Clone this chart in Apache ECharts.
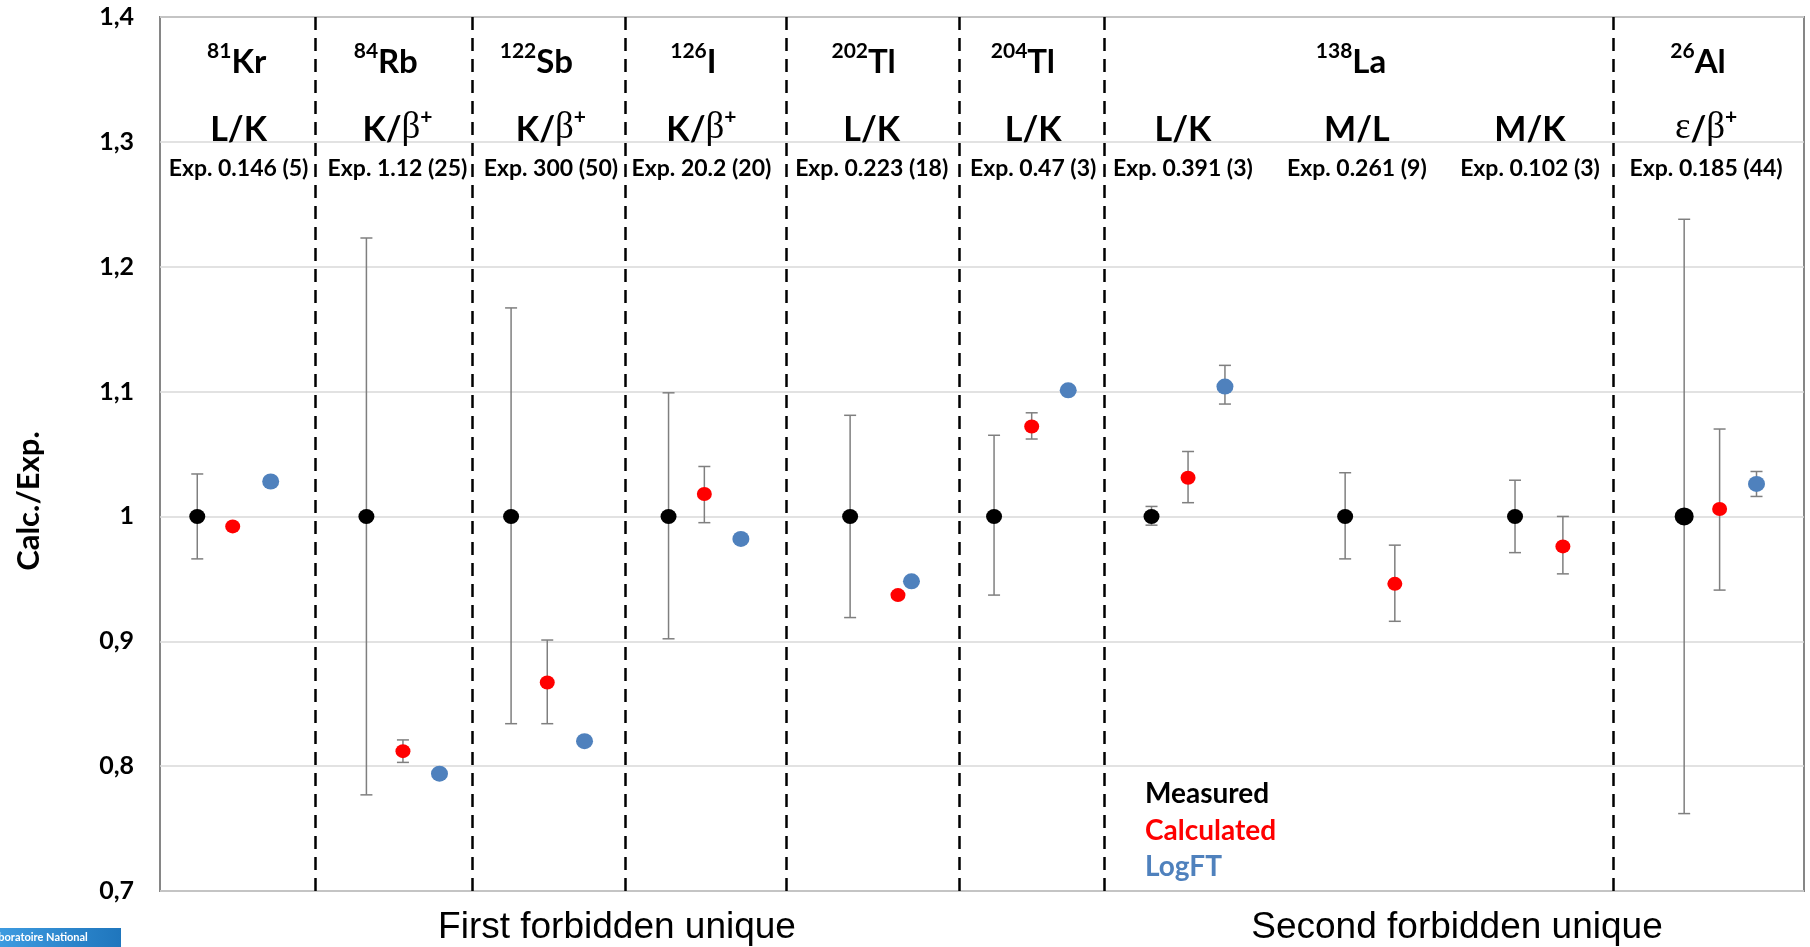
<!doctype html>
<html lang="en">
<head>
<meta charset="UTF-8">
<title>Calc./Exp.</title>
<style>
  html, body { margin: 0; padding: 0; background: #fff; }
  #chart { width: 1810px; height: 947px; }
</style>
<script src="https://cdn.jsdelivr.net/npm/echarts@6.0.0/dist/echarts.min.js"></script>
</head>
<body>
<div id="chart"></div>
<script>
// positions along the row of transitions (x axis runs 0..45)
var measuredX = [1.02, 5.65, 9.61, 13.92, 18.89, 22.83, 27.14, 32.44, 37.09, 41.72];
var measuredY = [1, 1, 1, 1, 1, 1, 1, 1, 1, 1];
var measuredLo = [0.966, 0.777, 0.834, 0.902, 0.919, 0.937, 0.993, 0.966, 0.971, 0.762];
var measuredHi = [1.034, 1.223, 1.167, 1.099, 1.081, 1.065, 1.008, 1.035, 1.029, 1.238];

var calculatedX = [1.99, 6.65, 10.60, 14.90, 20.20, 23.86, 28.14, 33.80, 38.40, 42.69];
var calculatedY = [0.992, 0.812, 0.867, 1.018, 0.937, 1.072, 1.031, 0.946, 0.976, 1.006];
var calculatedLo = [null, 0.803, 0.834, 0.995, null, 1.062, 1.011, 0.916, 0.954, 0.941];
var calculatedHi = [null, 0.821, 0.901, 1.040, null, 1.083, 1.052, 0.977, 1.000, 1.070];

var logftX = [3.03, 7.65, 11.62, 15.90, 20.57, 24.86, 29.15, 43.70];
var logftY = [1.028, 0.794, 0.820, 0.982, 0.948, 1.101, 1.104, 1.026];
var logftLo = [null, null, null, null, null, null, 1.090, 1.016];
var logftHi = [null, null, null, null, null, null, 1.121, 1.036];

var separatorX = [4.24, 8.55, 12.74, 17.15, 21.88, 25.84, 39.78];

var massNumbers = ['81', '84', '122', '126', '202', '204', '138', '26'];
var elements = ['Kr', 'Rb', 'Sb', 'I', 'Tl', 'Tl', 'La', 'Al'];
var ratios = ['L/K', 'K/β+', 'K/β+', 'K/β+', 'L/K', 'L/K', 'L/K', 'M/L', 'M/K', 'ε/β+'];
var expValues = ['Exp. 0.146 (5)', 'Exp. 1.12 (25)', 'Exp. 300 (50)', 'Exp. 20.2 (20)',
  'Exp. 0.223 (18)', 'Exp. 0.47 (3)', 'Exp. 0.391 (3)', 'Exp. 0.261 (9)',
  'Exp. 0.102 (3)', 'Exp. 0.185 (44)'];
var yTicks = [0.7, 0.8, 0.9, 1.0, 1.1, 1.2, 1.3, 1.4];
var legendNames = ['Measured', 'Calculated', 'LogFT'];
var groupTitles = ['First forbidden unique', 'Second forbidden unique'];

// where the header texts sit, in x axis units
var nuclideAt = [2.1, 6.18, 10.3, 14.6, 19.26, 23.62, 32.6, 42.1];
var ratioAt = [2.15, 6.5, 10.7, 14.82, 19.48, 23.9, 28.0, 32.76, 37.5, 42.32];

var FONT = 'Lato, "DejaVu Sans", sans-serif';
var GREEK = '"Liberation Serif", "DejaVu Serif", serif';

function pairs(xs, ys) {
  return xs.map(function (x, i) { return [x, ys[i]]; });
}
function bars(xs, lo, hi) {
  var out = [];
  xs.forEach(function (x, i) {
    if (lo[i] != null) out.push([x, lo[i], hi[i]]);
  });
  return out;
}

function errorBar(params, api) {
  var x = api.value(0);
  var lo = api.coord([x, api.value(1)]);
  var hi = api.coord([x, api.value(2)]);
  var c = 6;
  var st = { stroke: '#7f7f7f', lineWidth: 1.5 };
  return {
    type: 'group',
    children: [
      { type: 'line', shape: { x1: lo[0], y1: lo[1], x2: hi[0], y2: hi[1] }, style: st },
      { type: 'line', shape: { x1: lo[0] - c, y1: lo[1], x2: lo[0] + c, y2: lo[1] }, style: st },
      { type: 'line', shape: { x1: hi[0] - c, y1: hi[1], x2: hi[0] + c, y2: hi[1] }, style: st }
    ]
  };
}

function ratioMarkup(s) {
  var out = '';
  for (var i = 0; i < s.length; i++) {
    var ch = s[i];
    if (ch === 'β' || ch === 'ε') out += '{g|' + ch + '}';
    else if (ch === '+') out += '{p|+}';
    else out += '{t|' + ch + '}';
  }
  return out;
}

var chart = echarts.init(document.getElementById('chart'));

chart.setOption({
  animation: false,
  backgroundColor: '#fff',
  grid: {
    left: 160, right: 6, top: 17, bottom: 56,
    show: true, borderColor: '#868686', borderWidth: 2
  },
  xAxis: { type: 'value', min: 0, max: 45, show: false },
  yAxis: {
    type: 'value', min: 0.7, max: 1.4, interval: 0.1,
    axisLine: { show: false },
    axisTick: { show: false },
    splitLine: { lineStyle: { color: '#d9d9d9', width: 1.5 } },
    axisLabel: {
      margin: 26, color: '#000', fontFamily: FONT, fontWeight: 'bold', fontSize: 25,
      formatter: function (v) {
        return String(Math.round(v * 10) / 10).replace('.', ',');
      }
    }
  },
  series: [
    {
      type: 'custom', name: 'errMeasured', renderItem: errorBar, z: 1,
      encode: { x: 0, y: [1, 2] }, data: bars(measuredX, measuredLo, measuredHi)
    },
    {
      type: 'custom', name: 'errCalculated', renderItem: errorBar, z: 1,
      encode: { x: 0, y: [1, 2] }, data: bars(calculatedX, calculatedLo, calculatedHi)
    },
    {
      type: 'custom', name: 'errLogFT', renderItem: errorBar, z: 1,
      encode: { x: 0, y: [1, 2] }, data: bars(logftX, logftLo, logftHi)
    },
    {
      type: 'scatter', name: legendNames[0], z: 3,
      symbolSize: function (v, p) { return p.dataIndex === 9 ? [19, 18] : [16, 15]; },
      itemStyle: { color: '#000', opacity: 1 },
      data: pairs(measuredX, measuredY),
      markLine: {
        silent: true, symbol: 'none', label: { show: false },
        lineStyle: { color: '#000', width: 2.5, type: [13, 8] },
        data: separatorX.map(function (x) { return { xAxis: x }; })
      }
    },
    {
      type: 'scatter', name: legendNames[1], z: 3, symbolSize: [15, 14],
      itemStyle: { color: '#ff0000', opacity: 1 },
      data: pairs(calculatedX, calculatedY)
    },
    {
      type: 'scatter', name: legendNames[2], z: 3, symbolSize: [17, 16],
      itemStyle: { color: '#4f81bd', opacity: 1 },
      data: pairs(logftX, logftY)
    }
  ]
});

// header texts, legend words and captions
function px(x) { return chart.convertToPixel({ gridIndex: 0 }, [x, 1])[0]; }

var g = [];
massNumbers.forEach(function (m, i) {
  g.push({
    type: 'text', x: px(nuclideAt[i]), y: 60,
    style: {
      text: '{s|' + m + '}{e|' + elements[i] + '}',
      align: 'center', verticalAlign: 'middle',
      rich: {
        s: { fontFamily: FONT, fontWeight: 'bold', fontSize: 21, lineHeight: 27, verticalAlign: 'top', fill: '#000' },
        e: { fontFamily: FONT, fontWeight: 'bold', fontSize: 33, lineHeight: 38, verticalAlign: 'bottom', fill: '#000' }
      }
    }
  });
});
ratios.forEach(function (r, i) {
  g.push({
    type: 'text', x: px(ratioAt[i]), y: 127,
    style: {
      text: ratioMarkup(r),
      align: 'center', verticalAlign: 'middle',
      rich: {
        t: { fontFamily: FONT, fontWeight: 'bold', fontSize: 34, lineHeight: 40, verticalAlign: 'bottom', fill: '#000' },
        g: { fontFamily: GREEK, fontSize: 37, lineHeight: 40, verticalAlign: 'bottom', fill: '#000' },
        p: { fontFamily: FONT, fontWeight: 'bold', fontSize: 21, lineHeight: 30, verticalAlign: 'top', fill: '#000' }
      }
    }
  });
  g.push({
    type: 'text', x: px(ratioAt[i]), y: 169,
    style: {
      text: expValues[i], align: 'center', verticalAlign: 'middle',
      fontFamily: FONT, fontWeight: 'bold', fontSize: 23, fill: '#000'
    }
  });
});
var legendColors = ['#000', '#ff0000', '#4f81bd'];
legendNames.forEach(function (n, i) {
  g.push({
    type: 'text', x: 1145, y: 794 + i * 36.5,
    style: {
      text: n, align: 'left', verticalAlign: 'middle',
      fontFamily: FONT, fontWeight: 'bold', fontSize: 28, fill: legendColors[i]
    }
  });
});
g.push({
  type: 'text', x: 29, y: 501, rotation: Math.PI / 2,
  style: {
    text: 'Calc./Exp.', align: 'center', verticalAlign: 'middle',
    fontFamily: FONT, fontWeight: 'bold', fontSize: 31, fill: '#000'
  }
});
[617, 1457].forEach(function (x, i) {
  g.push({
    type: 'text', x: x, y: 928,
    style: {
      text: groupTitles[i], align: 'center', verticalAlign: 'middle',
      fontFamily: '"Liberation Sans", Arial, sans-serif', fontSize: 37, fill: '#000'
    }
  });
});
// clipped logo strip in the corner
g.push({
  type: 'rect', shape: { x: 0, y: 928, width: 121, height: 19 },
  style: {
    fill: new echarts.graphic.LinearGradient(0, 0, 1, 0, [
      { offset: 0, color: '#3d9be0' }, { offset: 1, color: '#1f76bd' }
    ])
  }
});
g.push({
  type: 'text', x: -13, y: 937,
  style: {
    text: 'Laboratoire National', align: 'left', verticalAlign: 'middle',
    fontFamily: FONT, fontWeight: 'bold', fontSize: 11, fill: '#fff'
  }
});

chart.setOption({ graphic: g });
</script>
</body>
</html>
